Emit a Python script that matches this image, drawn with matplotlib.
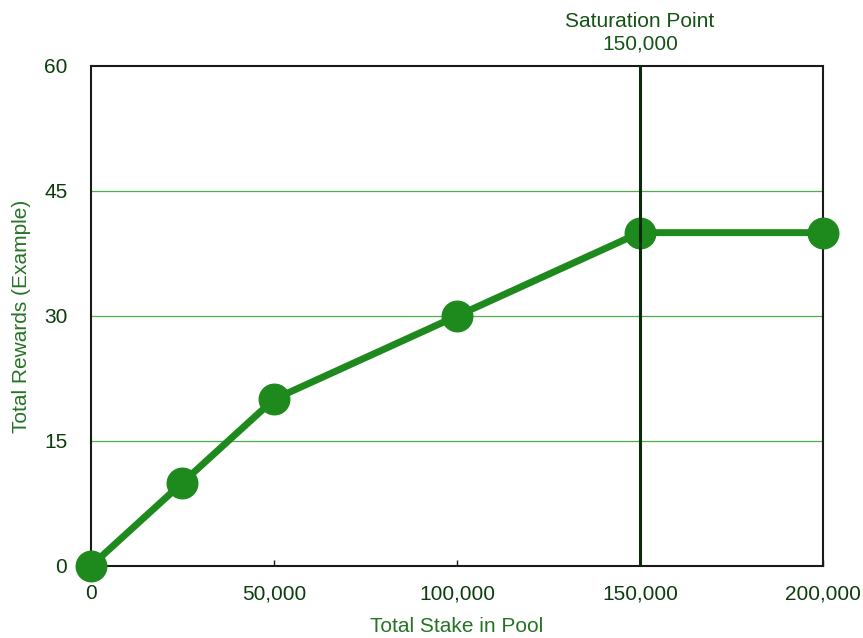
import matplotlib.pyplot as plt
from matplotlib.ticker import FuncFormatter

# data
stake = [0, 25000, 50000, 100000, 150000, 200000]
rewards = [0, 10, 20, 30, 40, 40]
x_ticks = [0, 50000, 100000, 150000, 200000]
y_ticks = [0, 15, 30, 45, 60]
saturation = 150000

plt.rcParams['font.family'] = ['Liberation Sans', 'DejaVu Sans']

line_col = '#1e8a1e'
tick_col = '#0b3d0b'
label_col = '#267326'

fig = plt.figure(figsize=(8.63, 6.38), dpi=100)
ax = fig.add_axes([0.1054, 0.1129, 0.8483, 0.7837])

ax.plot(stake, rewards, color=line_col, linewidth=5, marker='o',
        markersize=22, clip_on=False, zorder=3)
ax.axvline(saturation, color='#0a2a0a', linewidth=2.2, zorder=4)

ax.set_xlim(0, 200000)
ax.set_ylim(0, 60)
ax.set_xticks(x_ticks)
ax.set_yticks(y_ticks)
ax.xaxis.set_major_formatter(FuncFormatter(lambda v, p: f'{int(v):,}'))

for gy in y_ticks[1:-1]:
    ax.axhline(gy, color='#4cae4c', linewidth=0.9, zorder=1)

for s in ax.spines.values():
    s.set_color('#1a1a1a')
    s.set_linewidth(1.5)

ax.tick_params(axis='x', direction='in', length=4.3, width=1, color='#1a1a1a',
               pad=13, labelsize=15, labelcolor=tick_col)
ax.tick_params(axis='y', length=0, pad=17, labelsize=15, labelcolor=tick_col)

ax.set_xlabel('Total Stake in Pool', fontsize=15, color=label_col)
ax.set_ylabel('Total Rewards (Example)', fontsize=15, color=label_col)
ax.xaxis.set_label_coords(0.5, -0.102)
ax.yaxis.set_label_coords(-0.082, 0.5)

ax.text(saturation, 1.066, 'Saturation Point\n150,000', transform=ax.get_xaxis_transform(),
        ha='center', va='center', fontsize=15, color='#155215', linespacing=1.2)

fig.savefig('out.png', dpi=100)
